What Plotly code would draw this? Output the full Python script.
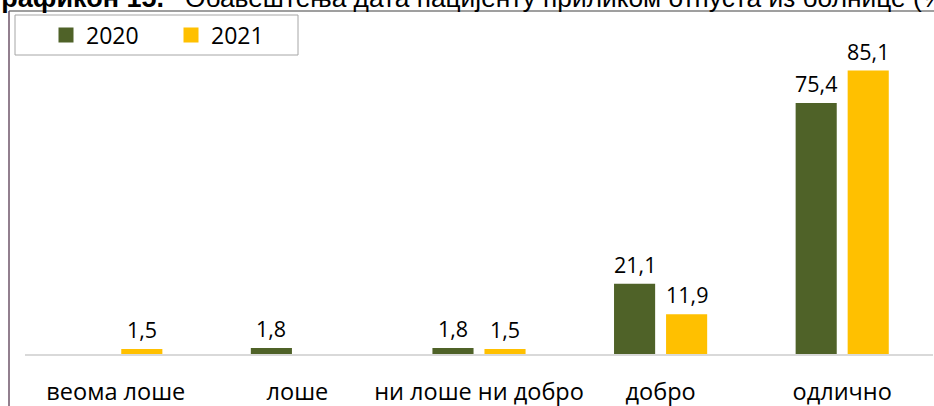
import plotly.graph_objects as go

categories = ["веома лоше", "лоше", "ни лоше ни добро", "добро", "одлично"]
values_2020 = [None, 1.8, 1.8, 21.1, 75.4]
values_2021 = [1.5, None, 1.5, 11.9, 85.1]
series_names = ["2020", "2021"]
title_bold = "Графикон 15."
title_rest = "Обавештења дата пацијенту приликом отпуста из болнице (%)"

GREEN = "#4f6228"
YELLOW = "#ffc000"
FONT = "Open Sans"

W, H = 934, 406
ML, MR, MT, MB = 25, 1, 21, 52
PW = W - ML - MR
PH = H - MT - MB
BARGAP = 0.427
GROUPGAP = 0.21


def px_x(p):
    return (p - ML) / PW


def px_y(p):
    return 1 + (MT - p) / PH


# half distance between the two bars of a group, in pixels
slot = PW / len(categories) * (1 - BARGAP) / 2

fig = go.Figure()
series = [(series_names[0], values_2020, GREEN, -1),
          (series_names[1], values_2021, YELLOW, 1)]
for name, vals, color, side in series:
    fig.add_trace(
        go.Bar(
            x=categories,
            y=vals,
            name=name,
            marker=dict(color=color, line=dict(width=0)),
            showlegend=False,
            hoverinfo="skip",
        )
    )
    # legend swatch
    fig.add_trace(
        go.Scatter(
            x=[None], y=[None], mode="markers", name=name,
            marker=dict(symbol="square", size=15, color=color),
        )
    )
    for cat, v in zip(categories, vals):
        if v is None:
            continue
        fig.add_annotation(
            x=cat, y=v, xref="x", yref="y",
            xshift=side * slot / 2, yshift=3,
            yanchor="bottom", showarrow=False,
            text=f"{v:.1f}".replace(".", ","),
            font=dict(family=FONT, size=21.5, color="#000000"),
        )

# title, partly cut off by the top and left edges
fig.add_annotation(
    x=px_x(-15), y=px_y(15), xref="paper", yref="paper",
    xanchor="left", yanchor="bottom",
    text=f"<b>{title_bold}</b>", showarrow=False,
    font=dict(family="Liberation Sans", size=27, color="#000000"),
)
fig.add_annotation(
    x=px_x(183), y=px_y(15), xref="paper", yref="paper",
    xanchor="left", yanchor="bottom",
    text=title_rest, showarrow=False,
    font=dict(family="Liberation Sans", size=26.3, color="#000000"),
)

# frame lines
fig.add_shape(type="line", xref="paper", yref="paper",
              x0=px_x(9), x1=px_x(940), y0=px_y(11), y1=px_y(11),
              line=dict(color="#7f7f7f", width=1.5))
fig.add_shape(type="line", xref="paper", yref="paper",
              x0=px_x(9), x1=px_x(9), y0=px_y(11), y1=px_y(410),
              line=dict(color="#6e5468", width=1.5))
# legend box
fig.add_shape(type="rect", xref="paper", yref="paper",
              x0=px_x(15), x1=px_x(298), y0=px_y(15), y1=px_y(55),
              line=dict(color="#a6a6a6", width=1))

fig.update_layout(
    width=W,
    height=H,
    margin=dict(l=ML, r=MR, t=MT, b=MB, autoexpand=False),
    plot_bgcolor="#ffffff",
    paper_bgcolor="#ffffff",
    barmode="group",
    bargap=BARGAP,
    bargroupgap=GROUPGAP,
    showlegend=True,
    legend=dict(
        orientation="h",
        x=px_x(46), y=px_y(35),
        xanchor="left", yanchor="middle",
        bgcolor="rgba(0,0,0,0)",
        borderwidth=0,
        font=dict(family=FONT, size=23, color="#000000"),
        entrywidth=80,
        itemwidth=30,
    ),
    xaxis=dict(
        showgrid=False,
        showline=True,
        linecolor="#d9d9d9",
        linewidth=2,
        ticks="",
        ticklabelstandoff=16,
        tickfont=dict(family=FONT, size=23.5, color="#000000"),
    ),
    yaxis=dict(
        range=[0, 100],
        visible=False,
        showgrid=False,
        zeroline=False,
    ),
)

fig.write_html(
    "out.html",
    config={"displayModeBar": False},
    post_script="document.body.style.margin = '0';",
)
